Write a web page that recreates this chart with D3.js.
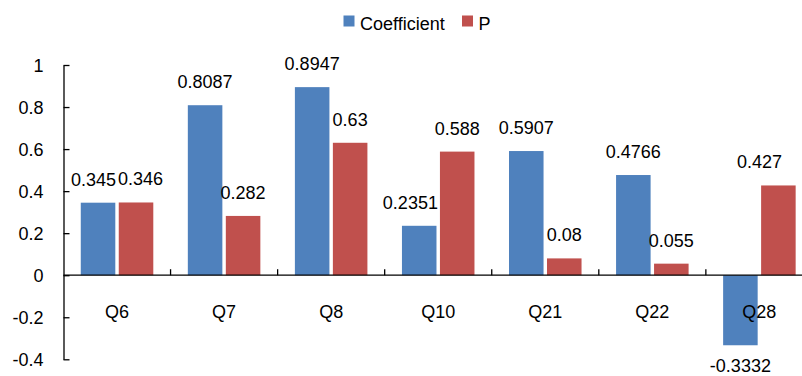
<!DOCTYPE html>
<html>
<head>
<meta charset="utf-8">
<script src="https://cdn.jsdelivr.net/npm/d3@7"></script>
<style>
  html, body { margin: 0; padding: 0; background: #fff; }
  svg { display: block; }
  text { font-family: "Liberation Sans", Arial, sans-serif; fill: #000; }
</style>
</head>
<body>
<svg id="chart" width="802" height="376"></svg>
<script>
// Survey items and their two series
const categories = ["Q6", "Q7", "Q8", "Q10", "Q21", "Q22", "Q28"];
const coefficient = [0.345, 0.8087, 0.8947, 0.2351, 0.5907, 0.4766, -0.3332];
const pValues = [0.346, 0.282, 0.63, 0.588, 0.08, 0.055, 0.427];
const seriesNames = ["Coefficient", "P"];
const yTicks = [-0.4, -0.2, 0, 0.2, 0.4, 0.6, 0.8, 1];
const yTickLabels = ["-0.4", "-0.2", "0", "0.2", "0.4", "0.6", "0.8", "1"];

const colors = ["#4F81BD", "#C0504D"];
const W = 802, H = 376;
const fontSize = 18;

const svg = d3.select("#chart");

// Plot frame (the category band runs a little past the right edge)
const left = 63.5, bandW = 107.06;
const x = d3.scaleBand().domain(categories)
  .range([left, left + bandW * categories.length])
  .paddingInner(0).paddingOuter(0);
const y = d3.scaleLinear().domain([-0.4, 1]).range([359.3, 65]);

// Bar geometry within each band: outer gap 0.5w, inner gap 0.1w
const barW = x.bandwidth() / 3.1;
const innerGap = barW * 0.1;
const seriesList = [coefficient, pValues];

const bars = [];
seriesList.forEach((vals, s) => {
  vals.forEach((v, i) => {
    const x0 = x(categories[i]) + barW * 0.5 + s * (barW + innerGap);
    bars.push({ s, i, v, x0, x1: x0 + barW,
      yTop: Math.min(y(v), y(0)), yBot: Math.max(y(v), y(0)) });
  });
});

svg.append("g").selectAll("rect").data(bars).join("rect")
  .attr("x", d => d.x0)
  .attr("width", barW)
  .attr("y", d => d.yTop)
  .attr("height", d => d.yBot - d.yTop)
  .attr("fill", d => colors[d.s]);

// Value axis: inward ticks, labels to the left
const yAxis = d3.axisRight(y).tickValues(yTicks)
  .tickFormat((d, i) => yTickLabels[i]).tickSize(6).tickSizeOuter(0);
const gy = svg.append("g").attr("transform", `translate(${left},0)`).call(yAxis);
gy.select(".domain").attr("stroke", "#000").attr("stroke-width", 1.3);
gy.selectAll(".tick line").attr("stroke", "#000").attr("stroke-width", 1.3);
gy.selectAll(".tick text")
  .attr("x", -20).attr("dy", "0.35em")
  .attr("text-anchor", "end")
  .style("font-size", fontSize + "px")
  .style("font-family", "Liberation Sans, Arial, sans-serif")
  .attr("fill", "#000");

// Category axis along zero with inward tick marks at band boundaries
const zeroY = y(0);
svg.append("line")
  .attr("x1", left).attr("x2", x.range()[1])
  .attr("y1", zeroY).attr("y2", zeroY)
  .attr("stroke", "#000").attr("stroke-width", 1.3);
svg.append("g").selectAll("line")
  .data(categories.slice(1))
  .join("line")
  .attr("x1", d => x(d)).attr("x2", d => x(d))
  .attr("y1", zeroY).attr("y2", zeroY - 6)
  .attr("stroke", "#000").attr("stroke-width", 1.3);
svg.append("g").selectAll("text")
  .data(categories).join("text")
  .attr("x", d => x(d) + x.bandwidth() / 2)
  .attr("y", zeroY + 43)
  .attr("text-anchor", "middle")
  .style("font-size", fontSize + "px")
  .text(d => d);

// Data labels: centred over each bar, then nudged so they stay clear
// of neighbouring bars, each other and the chart edges
const labelLayer = svg.append("g");
const labels = bars.map(b => {
  const txt = String(b.v);
  let base = b.v >= 0 ? b.yTop - 17 : b.yBot + 30;
  base = Math.min(base, H - 4);
  const t = labelLayer.append("text")
    .attr("text-anchor", "middle")
    .attr("y", base)
    .style("font-size", fontSize + "px")
    .text(txt);
  const w = t.node().getComputedTextLength();
  return { b, t, w, cx: (b.x0 + b.x1) / 2, top: base - 13, bot: base };
});

labels.forEach(L => {
  bars.forEach(o => {
    if (o === L.b) return;
    const vOverlap = L.bot > o.yTop && L.top < o.yBot;
    if (!vOverlap) return;
    const lx0 = L.cx - L.w / 2, lx1 = L.cx + L.w / 2;
    const ov = Math.min(lx1, o.x1) - Math.max(lx0, o.x0);
    if (ov > 3) {
      if (L.cx < (o.x0 + o.x1) / 2) L.cx = o.x0 - 2 - L.w / 2;
      else L.cx = o.x1 + 2 + L.w / 2;
    }
  });
});

categories.forEach((c, i) => {
  const pair = labels.filter(L => L.b.i === i);
  const [a, b] = pair;
  const vOverlap = a.bot > b.top && a.top < b.bot;
  const need = (a.w + b.w) / 2 + 2;
  const sep = b.cx - a.cx;
  if (vOverlap && sep < need) {
    const d = (need - sep) / 2;
    a.cx -= d; b.cx += d;
  }
});

labels.forEach(L => {
  const maxRight = W - 20;
  if (L.cx + L.w / 2 > maxRight) L.cx = maxRight - L.w / 2;
  L.t.attr("x", L.cx);
});

// Legend
const legend = svg.append("g");
const legendItems = [{ x: 343.5, name: seriesNames[0], c: colors[0] },
                     { x: 462, name: seriesNames[1], c: colors[1] }];
legendItems.forEach(it => {
  legend.append("rect").attr("x", it.x).attr("y", 15.5)
    .attr("width", 11).attr("height", 11).attr("fill", it.c);
  legend.append("text").attr("x", it.x + 16.5).attr("y", 29.5)
    .style("font-size", fontSize + "px").text(it.name);
});
</script>
</body>
</html>
